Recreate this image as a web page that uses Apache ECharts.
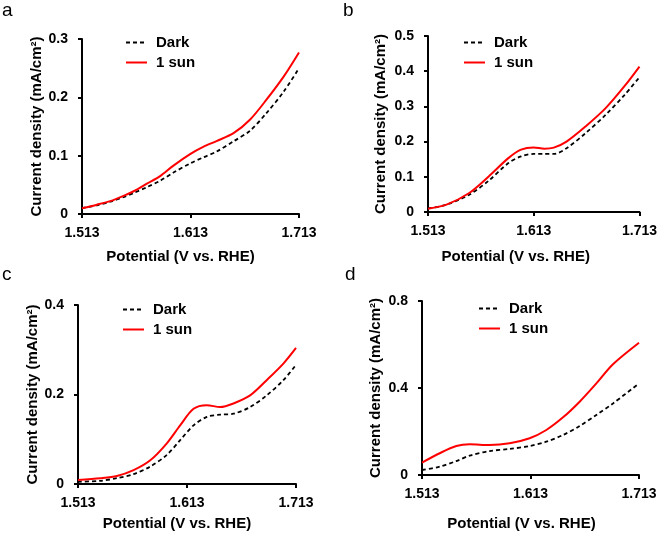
<!DOCTYPE html>
<html>
<head>
<meta charset="utf-8">
<script src="https://cdn.jsdelivr.net/npm/echarts@6/dist/echarts.min.js"></script>
<style>html,body{margin:0;padding:0;background:#fff}#c{width:660px;height:535px}</style>
</head>
<body>
<div id="c"></div>
<script>
// Panel a
var potA = [1.513, 1.5268, 1.539, 1.5513, 1.5606, 1.5728, 1.585, 1.5973, 1.613, 1.6247, 1.637, 1.653, 1.668, 1.683, 1.699, 1.713];
var darkA = [0.010, 0.015, 0.021, 0.029, 0.036, 0.046, 0.057, 0.071, 0.087, 0.097, 0.107, 0.125, 0.143, 0.173, 0.210, 0.250];
var sunA  = [0.010, 0.016, 0.022, 0.031, 0.039, 0.052, 0.065, 0.083, 0.103, 0.115, 0.125, 0.139, 0.162, 0.196, 0.236, 0.277];
// Panel b
var potB = [1.513, 1.5305, 1.552, 1.5704, 1.589, 1.601, 1.613, 1.623, 1.632, 1.644, 1.662, 1.681, 1.699, 1.713];
var darkB = [0.010, 0.021, 0.049, 0.089, 0.139, 0.158, 0.165, 0.165, 0.165, 0.181, 0.224, 0.276, 0.333, 0.383];
var sunB  = [0.0095, 0.021, 0.054, 0.101, 0.153, 0.177, 0.183, 0.180, 0.183, 0.200, 0.243, 0.295, 0.358, 0.413];
// Panel c
var potC = [1.513, 1.5335, 1.5487, 1.564, 1.5793, 1.5945, 1.6067, 1.619, 1.6312, 1.6434, 1.6556, 1.6709, 1.6861, 1.7014, 1.713];
var darkC = [0.005, 0.007, 0.013, 0.022, 0.039, 0.065, 0.098, 0.131, 0.150, 0.155, 0.157, 0.172, 0.198, 0.232, 0.266];
var sunC  = [0.009, 0.013, 0.018, 0.031, 0.053, 0.091, 0.131, 0.168, 0.176, 0.172, 0.180, 0.198, 0.232, 0.269, 0.304];
// Panel d
var potD = [1.513, 1.5293, 1.5446, 1.5569, 1.5754, 1.5938, 1.6122, 1.6276, 1.643, 1.6583, 1.6737, 1.689, 1.713];
var darkD = [0.023, 0.038, 0.064, 0.089, 0.110, 0.120, 0.133, 0.153, 0.184, 0.225, 0.276, 0.329, 0.421];
var sunD  = [0.057, 0.100, 0.133, 0.141, 0.138, 0.146, 0.169, 0.207, 0.265, 0.337, 0.421, 0.509, 0.608];

var xTicks = [1.513, 1.613, 1.713];
var yMax = [0.3, 0.5, 0.4, 0.8];
var yStep = [0.1, 0.1, 0.2, 0.4];
var panelLabels = ['a', 'b', 'c', 'd'];
var seriesNames = ['Dark', '1 sun'];
var xTitle = 'Potential (V vs. RHE)';
var yTitle = 'Current density (mA/cm\u00B2)';

var pots = [potA, potB, potC, potD];
var darks = [darkA, darkB, darkC, darkD];
var suns = [sunA, sunB, sunC, sunD];

var FONT = "'Liberation Sans', Arial, sans-serif";
var grids = [
  {left: 82, top: 39, width: 217, height: 175},
  {left: 428, top: 36, width: 217, height: 176},
  {left: 78, top: 305, width: 218, height: 179},
  {left: 422, top: 301, width: 217, height: 174}
];
var yGap = [38, 40, 35, 39];
var xGap = [35, 37, 32, 41];
var xShift = [20, 36, 20, 18];
var legendPos = [
  {left: 125, top: 35},
  {left: 463, top: 35},
  {left: 122, top: 302},
  {left: 478, top: 301}
];
var labelPos = [[2, 1], [343, 1], [2, 265], [345, 265]];

function pairs(xs, ys) { return xs.map(function (x, i) { return [x, ys[i]]; }); }

var axisLineStyle = {show: true, lineStyle: {color: '#000', width: 2}};
var option = {
  animation: false,
  backgroundColor: '#fff',
  grid: grids,
  xAxis: [], yAxis: [], series: [], legend: [], graphic: []
};
for (var p = 0; p < 4; p++) {
  option.xAxis.push({
    type: 'value', gridIndex: p, min: 1.513, max: 1.713,
    axisLine: axisLineStyle,
    axisTick: {show: true, length: 4, lineStyle: {color: '#000', width: 2}, customValues: xTicks},
    axisLabel: {customValues: xTicks, margin: 12, color: '#000', fontFamily: FONT, fontWeight: 'bold', fontSize: 14,
      formatter: function (v) { return v.toFixed(3); }},
    splitLine: {show: false},
    name: xTitle, nameLocation: 'middle', nameGap: xGap[p],
    nameTextStyle: {color: '#000', fontFamily: FONT, fontWeight: 'bold', fontSize: 15, padding: [0, xShift[p], 0, 0]}
  });
  option.yAxis.push({
    type: 'value', gridIndex: p, min: 0, max: yMax[p], interval: yStep[p],
    axisLine: axisLineStyle,
    axisTick: {show: true, length: 4, lineStyle: {color: '#000', width: 2}},
    axisLabel: {margin: 14, color: '#000', fontFamily: FONT, fontWeight: 'bold', fontSize: 14,
      formatter: function (v) { return v === 0 ? '0' : String(+v.toFixed(2)); }},
    splitLine: {show: false},
    name: yTitle, nameLocation: 'middle', nameGap: yGap[p], nameRotate: 90,
    nameTextStyle: {color: '#000', fontFamily: FONT, fontWeight: 'bold', fontSize: 15}
  });
  option.series.push({
    name: seriesNames[0], type: 'line', xAxisIndex: p, yAxisIndex: p, smooth: 0.3,
    symbol: 'none', data: pairs(pots[p], darks[p]),
    lineStyle: {color: '#000', width: 1.8, type: [4, 3]}, itemStyle: {color: '#000'}
  });
  option.series.push({
    name: seriesNames[1], type: 'line', xAxisIndex: p, yAxisIndex: p, smooth: 0.3,
    symbol: 'none', data: pairs(pots[p], suns[p]),
    lineStyle: {color: '#ff0000', width: 2}, itemStyle: {color: '#ff0000'}
  });
  option.legend.push({
    data: seriesNames, orient: 'vertical', left: legendPos[p].left, top: legendPos[p].top,
    itemWidth: 21, itemHeight: 14, itemGap: 5, padding: 0, selectedMode: false,
    itemStyle: {opacity: 0},
    textStyle: {color: '#000', fontFamily: FONT, fontWeight: 'bold', fontSize: 15, padding: [0, 0, 0, 4]}
  });
  option.graphic.push({
    type: 'text', left: labelPos[p][0], top: labelPos[p][1],
    style: {text: panelLabels[p], font: '19px ' + FONT, fill: '#000'}
  });
}
var chart = echarts.init(document.getElementById('c'), null, {renderer: 'canvas'});
chart.setOption(option);
</script>
</body>
</html>
